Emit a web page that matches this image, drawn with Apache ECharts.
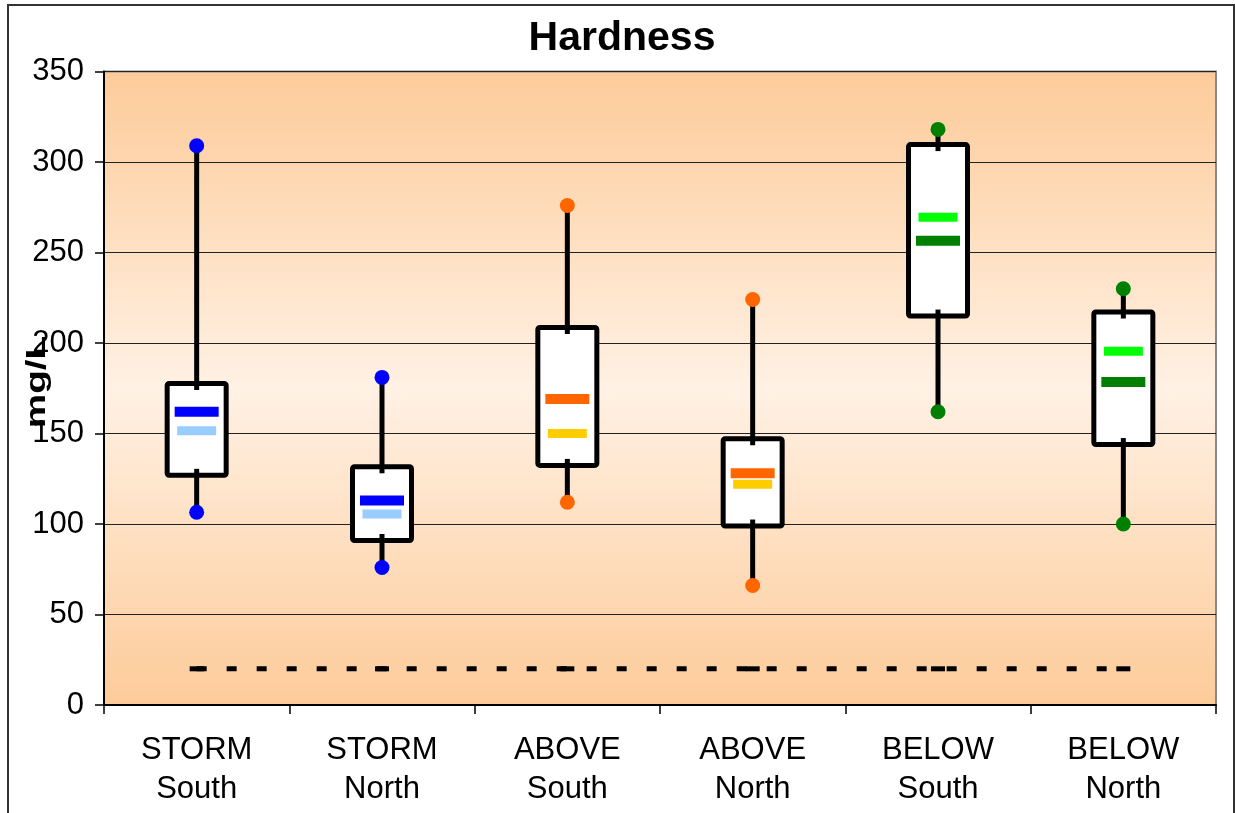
<!DOCTYPE html>
<html>
<head>
<meta charset="utf-8">
<script src="https://cdn.jsdelivr.net/npm/echarts@6/dist/echarts.min.js"></script>
<style>
html,body{margin:0;padding:0;background:#fff;}
#chart{width:1235px;height:813px;}
</style>
</head>
<body>
<div id="chart"></div>
<script>
// ---- data ----
const categories = ['STORM\nSouth', 'STORM\nNorth', 'ABOVE\nSouth', 'ABOVE\nNorth', 'BELOW\nSouth', 'BELOW\nNorth'];
const maxVals = [309, 181, 276, 224, 318, 230];
const q3Vals = [179, 133, 210, 148.5, 311, 218.5];
const q1Vals = [125.5, 89.5, 131, 97.5, 213.5, 142.5];
const minVals = [106.5, 76, 112, 66, 162, 100];
const darkMarks = [162, 113, 169, 128, 256.5, 178.5];
const lightMarks = [151.5, 105.5, 150, 122, 269.5, 195.5];
const guideLine = [20, 20, 20, 20, 20, 20];
const yTicks = { min: 0, max: 350, interval: 50 };

// colours per group (STORM, ABOVE, BELOW)
const dotColors = ['#0000FF', '#0000FF', '#FF6600', '#FF6600', '#008000', '#008000'];
const darkColors = ['#0000FF', '#0000FF', '#FF6600', '#FF6600', '#008000', '#008000'];
const lightColors = ['#99CCFF', '#99CCFF', '#FFCC00', '#FFCC00', '#00FF00', '#00FF00'];

const FONT = "'Liberation Sans', Arial, sans-serif";

const boxData = categories.map((c, i) => [i, minVals[i], q1Vals[i], q3Vals[i], maxVals[i]]);

const chart = echarts.init(document.getElementById('chart'), null, { renderer: 'canvas' });

const option = {
  animation: false,
  backgroundColor: '#ffffff',
  title: {
    text: 'Hardness',
    left: 617,
    textAlign: 'center',
    top: 13,
    textStyle: { fontFamily: FONT, fontSize: 41, fontWeight: 'bold', color: '#000' }
  },
  graphic: [
    {
      type: 'rect',
      shape: { x: 8, y: 5, width: 1226, height: 830 },
      style: { fill: null, stroke: '#333', lineWidth: 2 },
      silent: true, z: 100
    },
    {
      type: 'text',
      x: 37, y: 382,
      rotation: Math.PI / 2,
      scaleX: 1.38,
      style: {
        text: 'mg/L', fontFamily: FONT, fontSize: 28, fontWeight: 'bold', fill: '#000',
        align: 'center', verticalAlign: 'middle'
      },
      z: 50
    }
  ],
  grid: {
    left: 104, right: 19, top: 71.5, bottom: 108,
    show: true,
    borderColor: '#888', borderWidth: 2,
    backgroundColor: {
      type: 'linear', x: 0, y: 0, x2: 0, y2: 1,
      colorStops: [
        { offset: 0, color: '#FDCB99' },
        { offset: 0.5, color: '#FFF1E4' },
        { offset: 1, color: '#FDCB99' }
      ]
    }
  },
  xAxis: {
    type: 'category',
    data: categories,
    boundaryGap: true,
    axisLine: { show: true, lineStyle: { color: '#000', width: 2 } },
    axisTick: { show: true, length: 9, lineStyle: { color: '#000', width: 1.5 } },
    axisLabel: {
      fontFamily: FONT, fontSize: 31, color: '#000', lineHeight: 39, margin: 26,
      interval: 0
    },
    splitLine: { show: false }
  },
  yAxis: {
    type: 'value',
    min: yTicks.min, max: yTicks.max, interval: yTicks.interval,
    axisLine: { show: true, lineStyle: { color: '#000', width: 2 } },
    axisTick: { show: true, length: 9, lineStyle: { color: '#000', width: 1.5 } },
    axisLabel: { fontFamily: FONT, fontSize: 31, color: '#000', margin: 20 },
    splitLine: { show: true, lineStyle: { color: '#222', width: 1 } }
  },
  series: [
    {
      type: 'custom',
      name: 'box',
      data: boxData,
      encode: { x: 0, y: [1, 2, 3, 4] },
      renderItem: function (params, api) {
        const idx = api.value(0);
        const pMin = api.coord([idx, api.value(1)]);
        const pQ1 = api.coord([idx, api.value(2)]);
        const pQ3 = api.coord([idx, api.value(3)]);
        const pMax = api.coord([idx, api.value(4)]);
        const x = pMin[0];
        const w = 59;
        return {
          type: 'group',
          children: [
            {
              type: 'rect',
              shape: { x: x - w / 2, y: pQ3[1] + 2.5, width: w, height: pQ1[1] - pQ3[1] - 5, r: 2 },
              style: { fill: '#fff', stroke: '#000', lineWidth: 5 }
            },
            {
              type: 'line',
              shape: { x1: x, y1: pMax[1], x2: x, y2: pQ3[1] + 9 },
              style: { stroke: '#000', lineWidth: 5 }
            },
            {
              type: 'line',
              shape: { x1: x, y1: pQ1[1] - 9, x2: x, y2: pMin[1] },
              style: { stroke: '#000', lineWidth: 5 }
            }
          ]
        };
      },
      z: 2
    },
    {
      type: 'line',
      name: 'guide',
      data: guideLine,
      symbol: 'rect',
      symbolSize: [14, 5],
      itemStyle: { color: '#000' },
      lineStyle: { color: '#000', width: 5, type: [10, 20] },
      z: 3
    },
    {
      type: 'scatter',
      name: 'max',
      data: maxVals,
      symbol: 'circle',
      symbolSize: 15,
      itemStyle: { color: (p) => dotColors[p.dataIndex], opacity: 1 },
      z: 4
    },
    {
      type: 'scatter',
      name: 'min',
      data: minVals,
      symbol: 'circle',
      symbolSize: 15,
      itemStyle: { color: (p) => dotColors[p.dataIndex], opacity: 1 },
      z: 4
    },
    {
      type: 'scatter',
      name: 'dark',
      data: darkMarks,
      symbol: 'rect',
      symbolSize: [44, 10],
      itemStyle: { color: (p) => darkColors[p.dataIndex], opacity: 1 },
      z: 4
    },
    {
      type: 'scatter',
      name: 'light',
      data: lightMarks,
      symbol: 'rect',
      symbolSize: [39, 9],
      itemStyle: { color: (p) => lightColors[p.dataIndex], opacity: 1 },
      z: 4
    }
  ]
};

chart.setOption(option);
</script>
</body>
</html>
